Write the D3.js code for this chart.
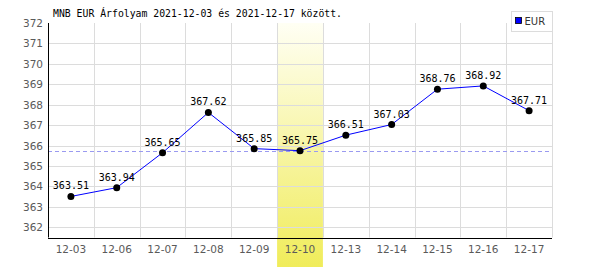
<!DOCTYPE html>
<html>
<head>
<meta charset="utf-8">
<script src="https://cdn.jsdelivr.net/npm/d3@7"></script>
<style>
  body { margin: 0; background: #fff; }
  .axis-label { font-family: "DejaVu Sans", sans-serif; font-size: 10.5px; fill: #5a5a5a; }
  .mono { font-family: "DejaVu Sans Mono", monospace; }
</style>
</head>
<body>
<div id="chart"></div>
<script>
const dates = ["12-03", "12-06", "12-07", "12-08", "12-09", "12-10", "12-13", "12-14", "12-15", "12-16", "12-17"];
const rates = [363.51, 363.94, 365.65, 367.62, 365.85, 365.75, 366.51, 367.03, 368.76, 368.92, 367.71];
const yTicks = [362, 363, 364, 365, 366, 367, 368, 369, 370, 371, 372];
const highlightDate = "12-10";
const refRate = 365.75;

const width = 600;
const height = 270;
const margin = { top: 23, right: 48, bottom: 32, left: 48 };

const svg = d3.select("#chart").append("svg").attr("width", width).attr("height", height);

const x = d3.scaleBand().domain(dates).range([margin.left, width - margin.right]);
const y = d3.scaleLinear().domain([361.5, 372]).range([height - margin.bottom - 0.5, margin.top]);

const grad = svg.append("defs").append("linearGradient")
  .attr("id", "hl").attr("x1", 0).attr("y1", 0).attr("x2", 0).attr("y2", 1);
grad.append("stop").attr("offset", "0%").attr("stop-color", "#fffff4");
grad.append("stop").attr("offset", "100%").attr("stop-color", "#f0ec5a");

// highlighted day
svg.append("rect")
  .attr("x", x(highlightDate))
  .attr("y", margin.top)
  .attr("width", x.bandwidth())
  .attr("height", height - 3 - margin.top)
  .attr("fill", "url(#hl)");

// grid
const plotBottom = y(361.5);
svg.append("g")
  .selectAll("line")
  .data(yTicks.filter((d) => d < 372))
  .join("line")
  .attr("x1", margin.left).attr("x2", width - margin.right)
  .attr("y1", (d) => Math.round(y(d)) + 0.5).attr("y2", (d) => Math.round(y(d)) + 0.5)
  .attr("stroke", "#dcdcdc");

svg.append("g")
  .selectAll("line")
  .data(dates)
  .join("line")
  .attr("x1", (d) => Math.round(x(d) + x.bandwidth()) + 0.5)
  .attr("x2", (d) => Math.round(x(d) + x.bandwidth()) + 0.5)
  .attr("y1", margin.top).attr("y2", plotBottom)
  .attr("stroke", "#dcdcdc");

// reference line
svg.append("line")
  .attr("x1", margin.left).attr("x2", width - margin.right)
  .attr("y1", Math.round(y(refRate)) + 0.5).attr("y2", Math.round(y(refRate)) + 0.5)
  .attr("stroke", "#9a9af0")
  .attr("stroke-dasharray", "4,3");

// axes
svg.append("line")
  .attr("x1", margin.left + 0.5).attr("x2", margin.left + 0.5)
  .attr("y1", margin.top).attr("y2", plotBottom)
  .attr("stroke", "#000");
svg.append("line")
  .attr("x1", margin.left).attr("x2", width - margin.right)
  .attr("y1", Math.round(plotBottom) + 0.5).attr("y2", Math.round(plotBottom) + 0.5)
  .attr("stroke", "#000");

svg.append("g")
  .selectAll("text")
  .data(yTicks)
  .join("text")
  .attr("class", "axis-label")
  .attr("x", 43)
  .attr("y", (d) => y(d) + 4)
  .attr("text-anchor", "end")
  .text((d) => d);

svg.append("g")
  .selectAll("text")
  .data(dates)
  .join("text")
  .attr("class", "axis-label")
  .attr("x", (d) => x(d) + x.bandwidth() / 2)
  .attr("y", plotBottom + 15)
  .attr("text-anchor", "middle")
  .text((d) => d);

// line + points
const line = d3.line()
  .x((d, i) => x(dates[i]) + x.bandwidth() / 2)
  .y((d) => y(d));

svg.append("path")
  .datum(rates)
  .attr("d", line)
  .attr("fill", "none")
  .attr("stroke", "#0000ff")
  .attr("stroke-width", 1);

svg.append("g")
  .selectAll("circle")
  .data(rates)
  .join("circle")
  .attr("cx", (d, i) => x(dates[i]) + x.bandwidth() / 2)
  .attr("cy", (d) => y(d))
  .attr("r", 3.5)
  .attr("fill", "#000");

svg.append("g")
  .selectAll("text")
  .data(rates)
  .join("text")
  .attr("class", "mono")
  .attr("font-size", 10)
  .attr("x", (d, i) => x(dates[i]) + x.bandwidth() / 2)
  .attr("y", (d) => y(d) - 7)
  .attr("text-anchor", "middle")
  .attr("fill", "#000")
  .text((d) => d.toFixed(2));

// title
svg.append("text")
  .attr("class", "mono")
  .attr("font-size", 9.8)
  .attr("x", 53)
  .attr("y", 17)
  .attr("fill", "#000")
  .text("MNB EUR Árfolyam 2021-12-03 és 2021-12-17 között.");

// legend
const legend = svg.append("g").attr("transform", "translate(511.5,11.5)");
legend.append("rect").attr("width", 41).attr("height", 20).attr("fill", "#fff").attr("stroke", "#dcdcdc");
legend.append("rect").attr("x", 4).attr("y", 6).attr("width", 6).attr("height", 6)
  .attr("fill", "#0000ff").attr("stroke", "#000").attr("stroke-width", 0.8);
legend.append("text").attr("x", 13).attr("y", 13.5)
  .attr("font-family", "DejaVu Sans, sans-serif").attr("font-size", 10).attr("fill", "#333").text("EUR");
</script>
</body>
</html>
